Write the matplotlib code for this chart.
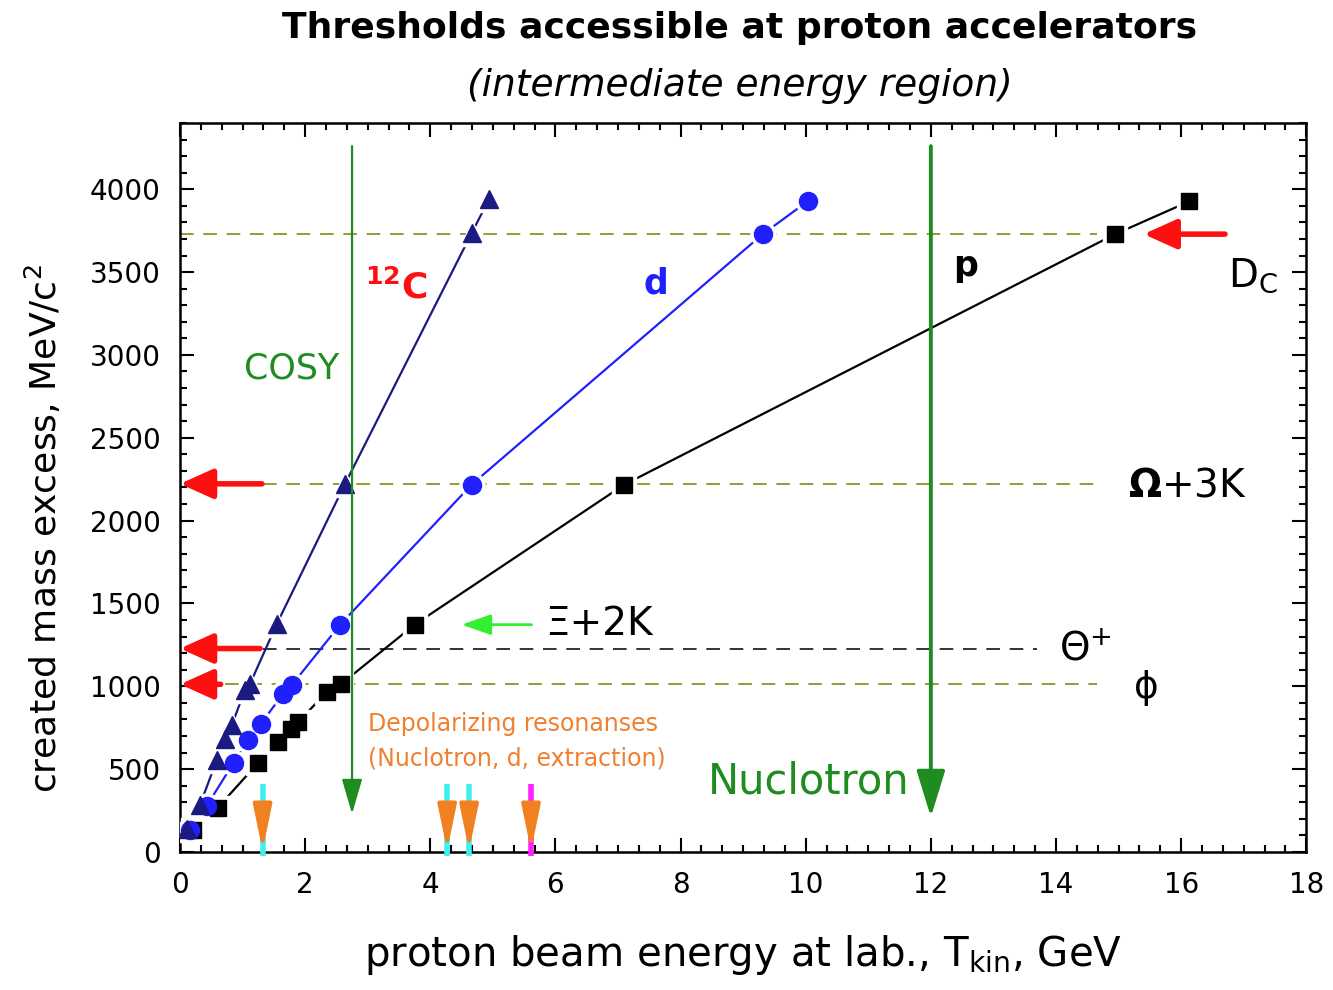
import matplotlib
matplotlib.use("Agg")
import matplotlib.pyplot as plt
from matplotlib.ticker import MultipleLocator

plt.rcParams['font.family'] = ['DejaVu Sans']
plt.rcParams['mathtext.fontset'] = 'dejavusans'

# ---- data ----
# proton target (p)
p_T = [0.21, 0.60, 1.25, 1.57, 1.77, 1.89, 2.35, 2.58, 3.75, 7.10, 14.94, 16.13]
p_M = [133, 266, 538, 665, 745, 785, 967, 1015, 1372, 2217, 3728, 3927]
# deuteron target (d)
d_T = [0.16, 0.43, 0.86, 1.09, 1.29, 1.65, 1.79, 2.56, 4.66, 9.31, 10.03]
d_M = [133, 280, 540, 677, 773, 955, 1009, 1372, 2217, 3728, 3927]
# carbon target (12C)
c_T = [0.12, 0.32, 0.59, 0.72, 0.83, 1.04, 1.12, 1.55, 2.64, 4.66, 4.94]
c_M = [139, 284, 556, 683, 767, 979, 1015, 1378, 2223, 3734, 3940]

# horizontal thresholds
thr_names = ['Dc', 'Omega+3K', 'Theta+', 'phi']
thr_M = [3729, 2222, 1228, 1012]
thr_xstart = [0.0, 1.33, 1.33, 0.72]
thr_xend = [14.65, 14.65, 13.7, 14.65]
thr_colors = ['#999933', '#999933', '#333333', '#999933']

# accelerator limits
cosy_T = 2.75
nuclotron_T = 12.0

# depolarizing resonances
depol_T = [1.32, 4.27, 4.62, 5.61]
depol_top_colors = ['#40f0f0', '#40f0f0', '#40f0f0', '#ff20ff']

fig = plt.figure(figsize=(13.33, 9.9), dpi=100)
ax = fig.add_axes([0.135, 0.1394, 0.845, 0.7364])
ax.set_xlim(0, 18)
ax.set_ylim(0, 4400)

# threshold dashed lines
for y, x0, x1, c in zip(thr_M, thr_xstart, thr_xend, thr_colors):
    ax.plot([x0, x1], [y, y], ls=(0, (7, 5)), color=c, lw=1.4, zorder=2)

# curves
series = [
    (p_T, p_M, 'black', 's', 12),
    (d_T, d_M, '#2020ff', 'o', 13),
    (c_T, c_M, '#1a1a80', '^', 13),
]
for T, M, col, mk, ms in series:
    ax.plot(T, M, color=col, lw=1.6, zorder=3)
for T, M, col, mk, ms in series:
    ax.plot(T, M, ls='none', marker=mk, ms=ms + 5, color='white', mec='white', zorder=3.5)
z = 4
for T, M, col, mk, ms in series:
    ax.plot(T, M, ls='none', marker=mk, ms=ms, color=col, mec=col, zorder=z)
    z += 0.1

# accelerator lines
green = '#1e8c1e'
ax.annotate('', xy=(cosy_T, 230), xytext=(cosy_T, 4260),
            arrowprops=dict(arrowstyle='-|>,head_length=1.2,head_width=0.35', color=green, lw=1.6,
                            mutation_scale=18, shrinkA=0, shrinkB=0), zorder=6)
ax.annotate('', xy=(nuclotron_T, 211), xytext=(nuclotron_T, 4260),
            arrowprops=dict(arrowstyle='-|>,head_length=1.3,head_width=0.4', color=green, lw=2.8,
                            mutation_scale=22, shrinkA=0, shrinkB=0), zorder=6)

# red arrows (pointing to threshold values)
red_arrows = [(0.0, 1.31, 2222), (0.0, 1.28, 1228), (0.0, 0.65, 1012), (15.4, 16.7, 3729)]
for xt, xs, y in red_arrows:
    ax.annotate('', xy=(xt, y), xytext=(xs, y),
                arrowprops=dict(arrowstyle='-|>,head_length=1.0,head_width=0.45', color='#ff1010', lw=4,
                                mutation_scale=20, shrinkA=0, shrinkB=0), zorder=7)

# green arrow for Xi+2K
ax.annotate('', xy=(4.5, 1372), xytext=(5.62, 1372),
            arrowprops=dict(arrowstyle='-|>,head_length=1.0,head_width=0.35', color='#33ee33', lw=2,
                            mutation_scale=18, shrinkA=0, shrinkB=0), zorder=7)

# depolarizing resonance markers
for xd, ctop in zip(depol_T, depol_top_colors):
    ax.plot([xd, xd], [410, -25], color=ctop, lw=4, solid_capstyle='butt', zorder=7, clip_on=False)
    ax.annotate('', xy=(xd, 8), xytext=(xd, 262),
                arrowprops=dict(arrowstyle='-|>,head_length=1.7,head_width=0.35', color='#f08020', lw=3,
                                mutation_scale=16, shrinkA=0, shrinkB=0), zorder=8)

# texts
ax.text(1.79, 2918, 'COSY', color=green, fontsize=25, ha='center', va='center')
ax.text(3.45, 3410, r'$^{\mathbf{12}}$C', color='#ff1010', fontsize=26, ha='center', va='center',
        fontweight='bold')
ax.text(7.6, 3432, 'd', color='#2020ff', fontsize=25, ha='center', va='center', fontweight='bold')
ax.text(12.55, 3535, 'p', color='black', fontsize=25, ha='center', va='center', fontweight='bold')
ax.text(16.75, 3480, r'D$_{\rm C}$', color='black', fontsize=28, ha='left', va='center')
ax.text(15.15, 2211, r'$\mathbf{\Omega}$+3K', color='black', fontsize=28, ha='left', va='center')
ax.text(5.83, 1378, 'Ξ+2K', color='black', fontsize=28, ha='left', va='center')
ax.text(14.05, 1220, r'Θ$^{+}$', color='black', fontsize=28, ha='left', va='center')
ax.text(15.25, 990, 'ϕ', color='black', fontsize=27, ha='left', va='center')
ax.text(3.0, 773, 'Depolarizing resonanses', color='#f08030', fontsize=17, ha='left', va='center')
ax.text(3.0, 562, '(Nuclotron, d, extraction)', color='#f08030', fontsize=17, ha='left', va='center')
ax.text(8.43, 423, 'Nuclotron', color=green, fontsize=30, ha='left', va='center')

# axes styling
ax.xaxis.set_major_locator(MultipleLocator(2))
ax.xaxis.set_minor_locator(MultipleLocator(1 / 3))
ax.yaxis.set_major_locator(MultipleLocator(500))
ax.yaxis.set_minor_locator(MultipleLocator(100))
ax.tick_params(which='both', direction='in', top=True, right=True, width=1.5)
ax.tick_params(which='major', length=10, labelsize=20, pad=14)
ax.tick_params(which='minor', length=5)
for s in ax.spines.values():
    s.set_linewidth(1.8)

ax.set_xlabel(r'proton beam energy at lab., T$_{\rm kin}$, GeV', fontsize=29, labelpad=24)
ax.set_ylabel(r'created mass excess, MeV/c$^2$', fontsize=26)
ax.yaxis.set_label_coords(-0.103, 0.443)

fig.text(0.555, 0.972, 'Thresholds accessible at proton accelerators', fontsize=26, fontweight='bold',
         ha='center', va='center')
fig.text(0.555, 0.913, '(intermediate energy region)', fontsize=27, style='italic', ha='center', va='center')

fig.savefig('out.png', dpi=100)
